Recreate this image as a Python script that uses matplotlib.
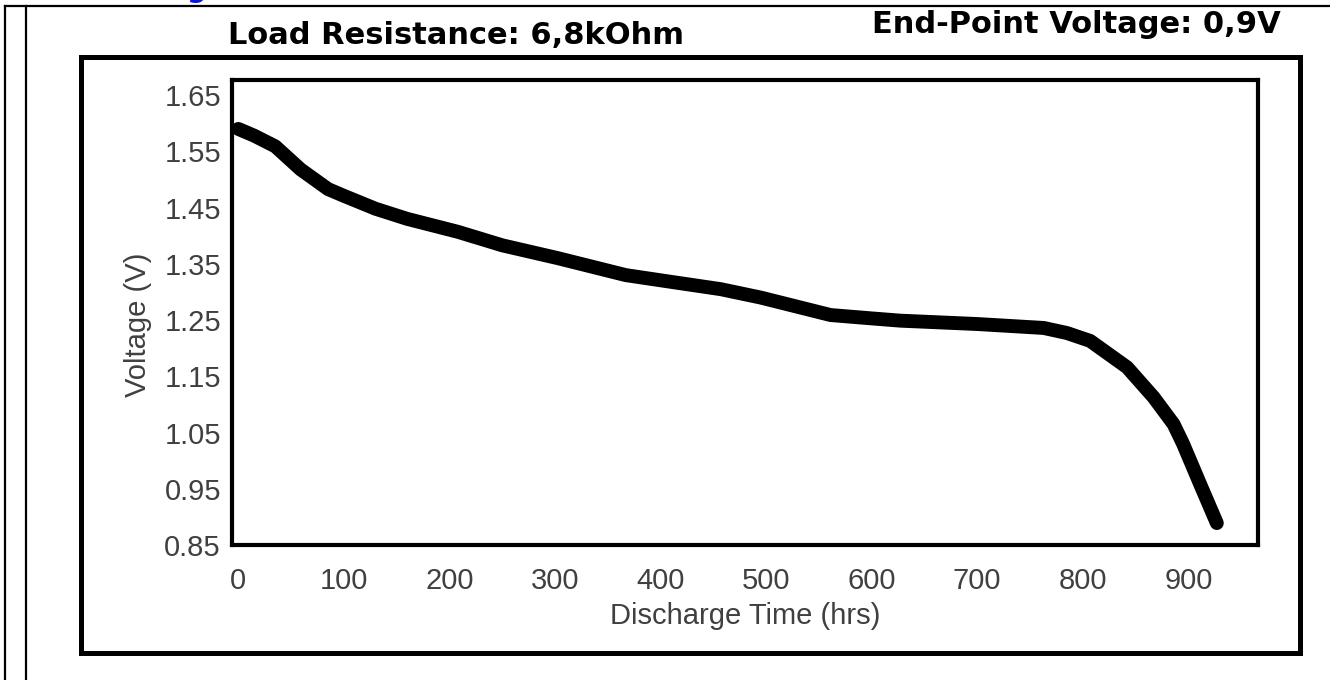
"""
Discharge curve for a cell under a 6,8 kOhm load, redrawn from a datasheet scan.

Values were read off the scanned figure; the framing (outer box, table rules)
is drawn on the figure itself so the axes keep the plain datasheet look.
"""

import matplotlib
matplotlib.use("Agg")
import matplotlib.pyplot as plt
from matplotlib.patches import Rectangle
from matplotlib.lines import Line2D

# discharge curve
hours = [0, 15, 35, 59, 85, 100, 130, 160, 208, 250, 303, 367, 410, 457,
         495, 561, 600, 627, 700, 763, 785, 807, 842, 867, 886, 895, 911, 927]
voltage = [1.590, 1.578, 1.559, 1.518, 1.483, 1.471, 1.448, 1.430, 1.407,
           1.383, 1.360, 1.330, 1.318, 1.305, 1.290, 1.259, 1.253, 1.249,
           1.243, 1.236, 1.227, 1.213, 1.166, 1.113, 1.065, 1.030, 0.959,
           0.889]

x_ticks = [0, 100, 200, 300, 400, 500, 600, 700, 800, 900]
y_ticks = [0.85, 0.95, 1.05, 1.15, 1.25, 1.35, 1.45, 1.55, 1.65]

title_left = "Load Resistance: 6,8kOhm"
title_right = "End-Point Voltage: 0,9V"
x_label = "Discharge Time (hrs)"
y_label = "Voltage (V)"

W, H = 1330, 680
LABEL_GREY = "#404040"


def fx(px):
    return px / W


def fy(py):
    # pixel rows count from the top, figure fractions from the bottom
    return 1 - py / H


def main():
    fig = plt.figure(figsize=(W / 100, H / 100), dpi=100)
    fig.patch.set_facecolor("white")

    # page/table rules around the figure
    for xs, ys in [((fx(5), 1), (fy(6), fy(6))),
                   ((fx(5), fx(5)), (0, fy(6))),
                   ((fx(26), fx(26)), (0, fy(6)))]:
        fig.add_artist(Line2D(xs, ys, transform=fig.transFigure,
                              color="black", lw=1.6))

    # tail of a cut-off blue link above the figure (cut off in the scan too)
    fig.text(fx(197), fy(-3), "g", color="#0a14e6", fontsize=20,
             fontweight="bold", ha="center", va="baseline",
             family="DejaVu Sans")

    # outer frame
    fig.add_artist(Rectangle((fx(81), fy(653)), fx(1300 - 81), (653 - 57) / H,
                             transform=fig.transFigure, fill=False,
                             edgecolor="black", lw=3.6))

    fig.text(fx(228), fy(44), title_left, ha="left", va="baseline",
             fontsize=22, fontweight="bold", family="DejaVu Sans")
    fig.text(fx(1281), fy(33), title_right, ha="right", va="baseline",
             fontsize=22, fontweight="bold", family="DejaVu Sans")

    ax = fig.add_axes([fx(232), fy(545), fx(1258 - 232), (545 - 80) / H])
    ax.plot(hours, voltage, color="black", lw=10, solid_capstyle="round",
            solid_joinstyle="round")

    ax.set_xlim(-6, 966)
    ax.set_ylim(0.857, 1.677)
    ax.set_xticks(x_ticks)
    ax.set_xticklabels([str(t) for t in x_ticks])
    ax.set_yticks(y_ticks)
    ax.set_yticklabels([f"{t:.2f}" for t in y_ticks])

    for s in ax.spines.values():
        s.set_linewidth(3)
        s.set_color("black")

    label_font = dict(family="Liberation Sans", size=21, color=LABEL_GREY)
    ax.tick_params(axis="both", length=0, labelsize=21, labelcolor=LABEL_GREY)
    ax.tick_params(axis="x", pad=16)
    ax.tick_params(axis="y", pad=8)
    for lab in ax.get_xticklabels() + ax.get_yticklabels():
        lab.set_family("Liberation Sans")

    ax.set_xlabel(x_label, fontdict=label_font, labelpad=5)
    ax.set_ylabel(y_label, fontdict=label_font)
    ax.yaxis.set_label_coords(-0.078, 0.473)

    fig.savefig("out.png", dpi=100, facecolor="white")


if __name__ == "__main__":
    main()
